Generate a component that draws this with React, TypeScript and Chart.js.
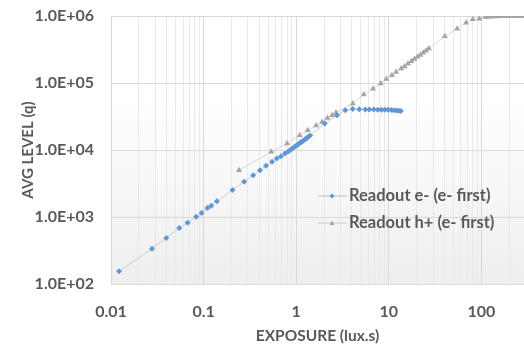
import React, { useEffect, useRef } from 'react';
import { Chart, registerables } from 'chart.js';

Chart.register(...registerables);

const readoutEExposure = [0.0122, 0.0277, 0.0395, 0.0546, 0.0672, 0.0832, 0.095, 0.110, 0.121, 0.139, 0.205, 0.274, 0.343, 0.406, 0.472, 0.548, 0.616, 0.685, 0.757, 0.82, 0.86, 0.90, 0.94, 0.98, 1.02, 1.06, 1.10, 1.14, 1.19, 1.24, 1.29, 1.35, 1.41, 2.03, 2.76, 3.39, 4.07, 4.80, 5.57, 6.15, 6.87, 7.59, 8.30, 9.03, 9.80, 10.6, 11.3, 12.1, 12.8, 13.5];
const readoutELevel = [155, 336, 486, 685, 822, 1009, 1148, 1362, 1475, 1714, 2529, 3365, 4190, 5000, 5840, 6650, 7470, 8080, 8870, 9500, 9980, 10400, 10900, 11400, 11800, 12300, 12800, 13200, 13800, 14400, 15000, 15700, 16400, 24800, 33000, 39200, 41000, 40500, 40200, 40300, 40100, 40000, 40000, 39900, 39800, 39700, 39300, 38700, 38400, 38300];

const readoutHExposure = [0.241, 0.538, 0.796, 1.09, 1.33, 1.64, 1.90, 2.17, 2.44, 2.69, 4.08, 5.36, 6.75, 8.17, 9.40, 10.8, 12.0, 13.6, 14.8, 16.1, 17.5, 18.9, 20.4, 21.9, 23.5, 25.2, 27.0, 40.2, 54.6, 68.3, 80.6, 94.9, 110, 118, 126, 134, 143, 152, 162, 172, 184, 196, 209, 222, 237, 252, 268, 283];
const readoutHLevel = [5000, 9380, 12500, 16600, 19700, 23200, 26200, 30100, 33000, 36200, 49300, 67100, 82400, 97900, 114700, 130000, 146000, 164000, 177000, 193000, 211000, 228000, 246000, 262000, 283000, 303000, 326000, 497000, 647000, 795000, 891000, 912000, 966000, 975000, 980000, 984000, 986000, 988000, 990000, 991000, 992000, 993000, 994000, 994000, 995000, 995000, 996000, 996000];

const seriesNames = ['Readout e- (e- first)', 'Readout h+ (e- first)'];
const xMajorTicks = [0.01, 0.1, 1, 10, 100];
const xMajorLabels = ['0.01', '0.1', '1', '10', '100'];
const xMinorSteps = [2, 3, 4, 5, 6, 7, 8, 9];
const yTicks = [1e2, 1e3, 1e4, 1e5, 1e6];
const yLabels = ['1.0E+02', '1.0E+03', '1.0E+04', '1.0E+05', '1.0E+06'];
const xTitle = 'EXPOSURE (lux.s)';
const yTitle = 'AVG LEVEL (q)';

const X_MIN = 0.01;
const X_MAX = 288;
const TEXT = '#595959';
const FONT = 'Lato, "Open Sans", sans-serif';
const BLUE = '#5f97d4';
const GRAY = '#a5a5a5';

const AREA = { left: 111, top: 16, right: 524, bottom: 284 };

function drawMarker(ctx: CanvasRenderingContext2D, style: string, r: number, x: number, y: number, color: string) {
  ctx.fillStyle = color;
  ctx.beginPath();
  if (style === 'rectRot') {
    ctx.moveTo(x, y - r);
    ctx.lineTo(x + r, y);
    ctx.lineTo(x, y + r);
    ctx.lineTo(x - r, y);
  } else {
    ctx.moveTo(x, y - r);
    ctx.lineTo(x + r, y + r * 0.8);
    ctx.lineTo(x - r, y + r * 0.8);
  }
  ctx.closePath();
  ctx.fill();
}

export default function App() {
  const ref = useRef<HTMLCanvasElement | null>(null);

  useEffect(() => {
    if (!ref.current) return;
    const allXTicks: number[] = [];
    xMajorTicks.forEach((m) => {
      allXTicks.push(m);
      xMinorSteps.forEach((s) => allXTicks.push(m * s));
    });
    const isMajor = (v: number) => xMajorTicks.some((m) => Math.abs(m - v) / m < 1e-6);
    const labelFor = (v: number) => {
      const i = xMajorTicks.findIndex((m) => Math.abs(m - v) / m < 1e-6);
      return i >= 0 ? xMajorLabels[i] : '';
    };
    const yLabelFor = (v: number) => {
      const i = yTicks.findIndex((m) => Math.abs(m - v) / m < 1e-6);
      return i >= 0 ? yLabels[i] : '';
    };

    const areaPlugin = {
      id: 'fixArea',
      afterLayout(chart: any) {
        const ca = chart.chartArea;
        ca.left = AREA.left;
        ca.top = AREA.top;
        ca.right = AREA.right;
        ca.bottom = AREA.bottom;
        ca.width = AREA.right - AREA.left;
        ca.height = AREA.bottom - AREA.top;
        const x = chart.scales.x;
        const y = chart.scales.y;
        x.left = AREA.left;
        x.right = AREA.right;
        x.width = AREA.right - AREA.left;
        x.top = AREA.bottom;
        x.bottom = chart.height;
        x.height = chart.height - AREA.bottom;
        x.configure();
        y.left = 0;
        y.right = AREA.left;
        y.width = AREA.left;
        y.top = AREA.top;
        y.bottom = AREA.bottom;
        y.height = AREA.bottom - AREA.top;
        y.configure();
      },
    };

    const bgPlugin = {
      id: 'bg',
      beforeDraw(chart: any) {
        const { ctx, chartArea: a } = chart;
        const g = ctx.createLinearGradient(0, a.top, 0, a.bottom);
        g.addColorStop(0, '#ffffff');
        g.addColorStop(0.3, '#ffffff');
        g.addColorStop(1, '#eeeeee');
        ctx.save();
        ctx.fillStyle = g;
        ctx.fillRect(a.left, a.top, a.right - a.left, a.bottom - a.top);
        ctx.restore();
      },
    };

    const legendPlugin = {
      id: 'customLegend',
      afterDraw(chart: any) {
        const { ctx } = chart;
        const items = [
          { color: BLUE, line: 'rgba(95,151,212,0.5)', style: 'rectRot', r: 2.5, y: 196 },
          { color: GRAY, line: 'rgba(165,165,165,0.5)', style: 'triangle', r: 2.5, y: 223 },
        ];
        ctx.save();
        items.forEach((it, i) => {
          ctx.strokeStyle = it.line;
          ctx.lineWidth = 1;
          ctx.beginPath();
          ctx.moveTo(318, it.y);
          ctx.lineTo(347, it.y);
          ctx.stroke();
          drawMarker(ctx, it.style, it.r, 332, it.y, it.color);
          ctx.fillStyle = TEXT;
          ctx.font = `bold 16.5px ${FONT}`;
          ctx.textAlign = 'left';
          ctx.textBaseline = 'middle';
          ctx.fillText(seriesNames[i], 349, it.y);
        });
        ctx.restore();
      },
    };

    const chart = new Chart(ref.current, {
      type: 'scatter',
      data: {
        datasets: [
          {
            label: seriesNames[0],
            data: readoutEExposure.map((x, i) => ({ x, y: readoutELevel[i] })),
            showLine: true,
            borderColor: 'rgba(160,180,205,0.6)',
            borderWidth: 1,
            pointStyle: 'rectRot',
            pointRadius: 3,
            pointBackgroundColor: BLUE,
            pointBorderColor: BLUE,
            pointBorderWidth: 0,
          },
          {
            label: seriesNames[1],
            data: readoutHExposure.map((x, i) => ({ x, y: readoutHLevel[i] })),
            showLine: true,
            borderColor: 'rgba(190,190,190,0.6)',
            borderWidth: 1,
            pointStyle: 'triangle',
            pointRadius: 3.5,
            pointBackgroundColor: GRAY,
            pointBorderColor: GRAY,
            pointBorderWidth: 0,
          },
        ],
      },
      options: {
        responsive: false,
        animation: false,
        layout: { padding: { top: 16, right: 0, left: 0, bottom: 0 } },
        plugins: {
          legend: { display: false },
          tooltip: { enabled: false },
        },
        scales: {
          x: {
            type: 'logarithmic',
            position: 'bottom',
            min: X_MIN,
            max: X_MAX,
            afterBuildTicks: (scale: any) => {
              scale.ticks = allXTicks
                .filter((v) => v >= X_MIN && v <= X_MAX)
                .map((v) => ({ value: v, major: isMajor(v) }));
            },
            afterFit: (scale: any) => {
              scale.height = 61;
              scale.paddingLeft = 0;
              scale.paddingRight = 0;
            },
            grid: {
              drawTicks: false,
              color: (c: any) => (c.tick && isMajor(c.tick.value) ? '#d9d9d9' : '#e9e9e9'),
              lineWidth: 1,
            },
            border: { display: false },
            ticks: {
              autoSkip: false,
              maxRotation: 0,
              padding: 18,
              color: TEXT,
              font: { family: FONT, size: 16, weight: 'bold' },
              callback: (v: any) => labelFor(Number(v)),
            },
            title: {
              display: true,
              text: xTitle,
              color: TEXT,
              font: { family: FONT, size: 15.5, weight: 'bold' },
              padding: { top: 0, bottom: 0 },
            },
          },
          y: {
            type: 'logarithmic',
            position: 'left',
            min: 1e2,
            max: 1e6,
            afterBuildTicks: (scale: any) => {
              scale.ticks = yTicks.map((v) => ({ value: v, major: true }));
            },
            afterFit: (scale: any) => {
              scale.width = 111;
              scale.paddingTop = 0;
              scale.paddingBottom = 0;
            },
            grid: {
              drawTicks: false,
              color: '#d9d9d9',
              lineWidth: 1,
            },
            border: { display: false },
            ticks: {
              padding: 17,
              color: TEXT,
              font: { family: FONT, size: 16, weight: 'bold' },
              callback: (v: any) => yLabelFor(Number(v)),
            },
            title: {
              display: true,
              text: yTitle,
              color: TEXT,
              font: { family: FONT, size: 15, weight: 'bold' },
              padding: { top: 19, bottom: 0 },
            },
          },
        },
      },
      plugins: [areaPlugin, bgPlugin, legendPlugin],
    } as any);

    return () => chart.destroy();
  }, []);

  return (
    <div style={{ position: 'fixed', left: 0, top: 0, width: 524, height: 345, background: '#ffffff' }}>
      <canvas ref={ref} width={524} height={345} style={{ width: 524, height: 345, display: 'block' }} />
    </div>
  );
}
